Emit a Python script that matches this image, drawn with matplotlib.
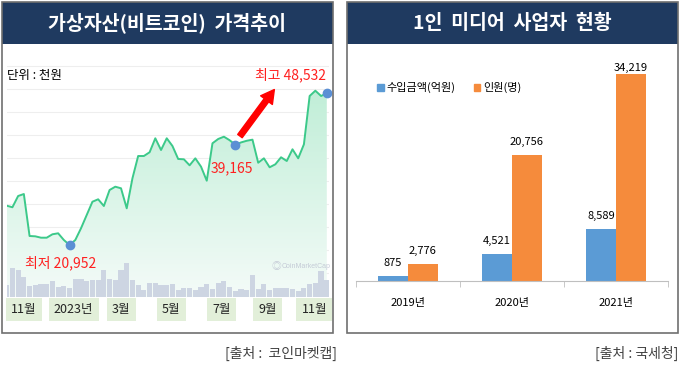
import numpy as np
import matplotlib
matplotlib.use('Agg')
from matplotlib import pyplot as plt
from matplotlib.patches import Rectangle, FancyArrowPatch, Patch
from matplotlib.colors import LinearSegmentedColormap

plt.rcParams['font.family'] = ['Noto Sans CJK KR', 'DejaVu Sans']

# bitcoin weekly price (천원), Nov 2022 - Nov 2023
btc_price = [28100, 27810, 29860, 30220, 22590, 22530, 22280, 22280, 22900, 23080,
             21860, 20952, 21860, 23990, 26410, 28820, 29260, 28040, 30950, 31550,
             31260, 27620, 33080, 37130, 37130, 37810, 40350, 38220, 40350, 38950,
             36590, 36530, 35440, 36710, 35190, 32640, 39440, 40220, 40640, 40000,
             39165, 39600, 39900, 40100, 35910, 36710, 35080, 35620, 36900, 36220,
             38350, 36710, 39260, 48040, 49000, 48040, 48532]
# weekly trading volume (relative)
btc_volume = [35, 88, 82, 60, 32, 37, 39, 40, 47, 30, 32, 27, 55, 53, 48, 50, 52, 82, 53, 52,
              80, 102, 52, 37, 20, 43, 42, 35, 37, 38, 20, 27, 28, 22, 30, 40, 25, 42, 47, 30,
              18, 24, 22, 65, 25, 40, 20, 28, 28, 28, 25, 18, 28, 40, 42, 78, 50]
month_labels = ['11월', '2023년', '3월', '5월', '7월', '9월', '11월']
month_weeks = [3, 11.7, 20, 28.8, 37.6, 45.6, 53.8]
low_idx, mid_idx, high_idx = 11, 40, 56

years = ['2019년', '2020년', '2021년']
income = [875, 4521, 8589]      # 수입금액(억원)
people = [2776, 20756, 34219]   # 인원(명)

W, H = 680, 385
fig = plt.figure(figsize=(W / 100, H / 100), dpi=100)
fig.patch.set_facecolor('white')


def px_axes(x0, y0, x1, y1):
    return fig.add_axes([x0 / W, 1 - y1 / H, (x1 - x0) / W, (y1 - y0) / H])


def px_rect(x0, y0, x1, y1, **kw):
    fig.add_artist(Rectangle((x0 / W, 1 - y1 / H), (x1 - x0) / W, (y1 - y0) / H,
                             transform=fig.transFigure, **kw))


def px_text(x, y, s, **kw):
    fig.text(x / W, 1 - y / H, s, **kw)


navy = '#1f3a60'
red = '#ff2020'

# panels
for x0, x1 in [(2, 333), (347, 678)]:
    px_rect(x0, 2, x1, 44, facecolor=navy, edgecolor='none')
    px_rect(x0, 2, x1, 333, fill=False, edgecolor='#6f6f6f', lw=1.2)
px_text(167.5, 23, '가상자산(비트코인)  가격추이', color='white', fontsize=14,
        fontweight='bold', ha='center', va='center')
px_text(512.5, 23, '1인  미디어  사업자  현황', color='white', fontsize=14,
        fontweight='bold', ha='center', va='center')

# ---- left: bitcoin price ----
ax = px_axes(6.7, 55, 328.5, 297)
x = np.arange(len(btc_price))
ymin, ymax = 11500, 55490
ax.set_yticks(np.arange(15863, ymax, 4180))
ax.grid(axis='y', color='#eeeeee', lw=0.8)
ax.set_axisbelow(True)
poly = ax.fill_between(x, btc_price, ymin, color='none')
grad = np.linspace(0, 1, 256).reshape(-1, 1)
cmap = LinearSegmentedColormap.from_list('mint', ['#f4fbf8', '#b8ecd2'])
im = ax.imshow(grad, cmap=cmap, aspect='auto', origin='lower',
               extent=[0, 56.3, ymin, ymax], zorder=1)
im.set_clip_path(poly.get_paths()[0], transform=ax.transData)
ax.plot(x, btc_price, color='#3cc98a', lw=1.4, zorder=3)
ax.set_xlim(0, 56.3)
ax.set_ylim(ymin, ymax)
ax.tick_params(length=0, labelleft=False, labelbottom=False)
for s in ax.spines.values():
    s.set_visible(False)

vax = px_axes(6.7, 55, 328.5, 297)
vax.patch.set_alpha(0)
vax.bar(x, btc_volume, width=0.9, color='#cdd5e2')
vax.set_xlim(0, 56.3)
vax.set_ylim(0, 726)
vax.axis('off')

pts = [low_idx, mid_idx, high_idx]
vax.scatter(pts, [btc_price[i] for i in pts], transform=ax.transData, s=36,
            color='#5b8fd4', zorder=5, clip_on=False)
vax.annotate(f'최저 {btc_price[low_idx]:,}', xy=(low_idx, btc_price[low_idx]),
             xycoords=ax.transData, xytext=(-9, -18), textcoords='offset pixels',
             ha='center', va='center', color=red, fontsize=10)
vax.annotate(f'{btc_price[mid_idx]:,}', xy=(mid_idx, btc_price[mid_idx]),
             xycoords=ax.transData, xytext=(-3, -23), textcoords='offset pixels',
             ha='center', va='center', color=red, fontsize=10)
vax.annotate(f'최고 {btc_price[high_idx]:,}', xy=(high_idx, btc_price[high_idx]),
             xycoords=ax.transData, xytext=(-1, 18), textcoords='offset pixels',
             ha='right', va='center', color=red, fontsize=10)
fig.add_artist(FancyArrowPatch((238.3 / W, 1 - 138.3 / H), (276 / W, 1 - 87.3 / H),
                               transform=fig.transFigure, color='#ff0000',
                               arrowstyle='simple,tail_width=0.4,head_width=1.05,head_length=0.95',
                               mutation_scale=10))
px_text(7, 76, '단위 : 천원', fontsize=9, ha='left', va='center', color='black')
px_text(276, 266, '◎', fontsize=7, ha='center', va='center', color='#c4cad6')
px_text(282, 266, 'CoinMarketCap', family='Liberation Sans', fontsize=5,
        ha='left', va='center', color='#c4cad6')

for wk, lab in zip(month_weeks, month_labels):
    vax.text(wk, -0.052, lab, transform=vax.get_xaxis_transform(), ha='center', va='center',
             fontsize=9, color='#222222',
             bbox=dict(boxstyle='square,pad=0.42', facecolor='#e2efd9', edgecolor='none'))

px_text(337, 353, '[출처 :  코인마켓캡]', fontsize=10, ha='right', va='center', color='#404040')

# ---- right: 1인 미디어 사업자 ----
bx = px_axes(356, 50, 668, 281)
pos = np.arange(len(years))
bw = 0.285
b1 = bx.bar(pos - bw / 2, income, width=bw, color='#5b9bd5', label='수입금액(억원)')
b2 = bx.bar(pos + bw / 2, people, width=bw, color='#f58b3c', label='인원(명)')
top = max(people)
for bars, vals in [(b1, income), (b2, people)]:
    for r, v in zip(bars, vals):
        off = 6 if v == top else 13
        bx.annotate(f'{v:,}', xy=(r.get_x() + r.get_width() / 2, v), xytext=(0, off),
                    textcoords='offset pixels', ha='center', va='center', fontsize=8)
bx.set_xlim(-0.5, 2.5)
bx.set_ylim(0, 38186)
for k in ['top', 'right', 'left']:
    bx.spines[k].set_visible(False)
bx.spines['bottom'].set_color('#bfbfbf')
bx.set_yticks([])
bx.set_xticks(pos)
bx.set_xticklabels(years, fontsize=8)
bx.set_xticks([-0.5, 0.5, 1.5, 2.5], minor=True)
bx.tick_params(axis='x', which='major', length=0, pad=12)
bx.tick_params(axis='x', which='minor', length=4, color='#bfbfbf')
bx.legend(handles=[Patch(color='#5b9bd5', label='수입금액(억원)'),
                   Patch(color='#f58b3c', label='인원(명)')],
          ncol=2, frameon=False, fontsize=8, handlelength=0.6, handleheight=0.6,
          handletextpad=0.3, columnspacing=1.6, loc='upper left',
          bbox_to_anchor=(0.06, 0.87), borderaxespad=0, borderpad=0.2)

px_text(678, 353, '[출처 : 국세청]', fontsize=10, ha='right', va='center', color='#404040')

fig.savefig('out.png', dpi=100)
